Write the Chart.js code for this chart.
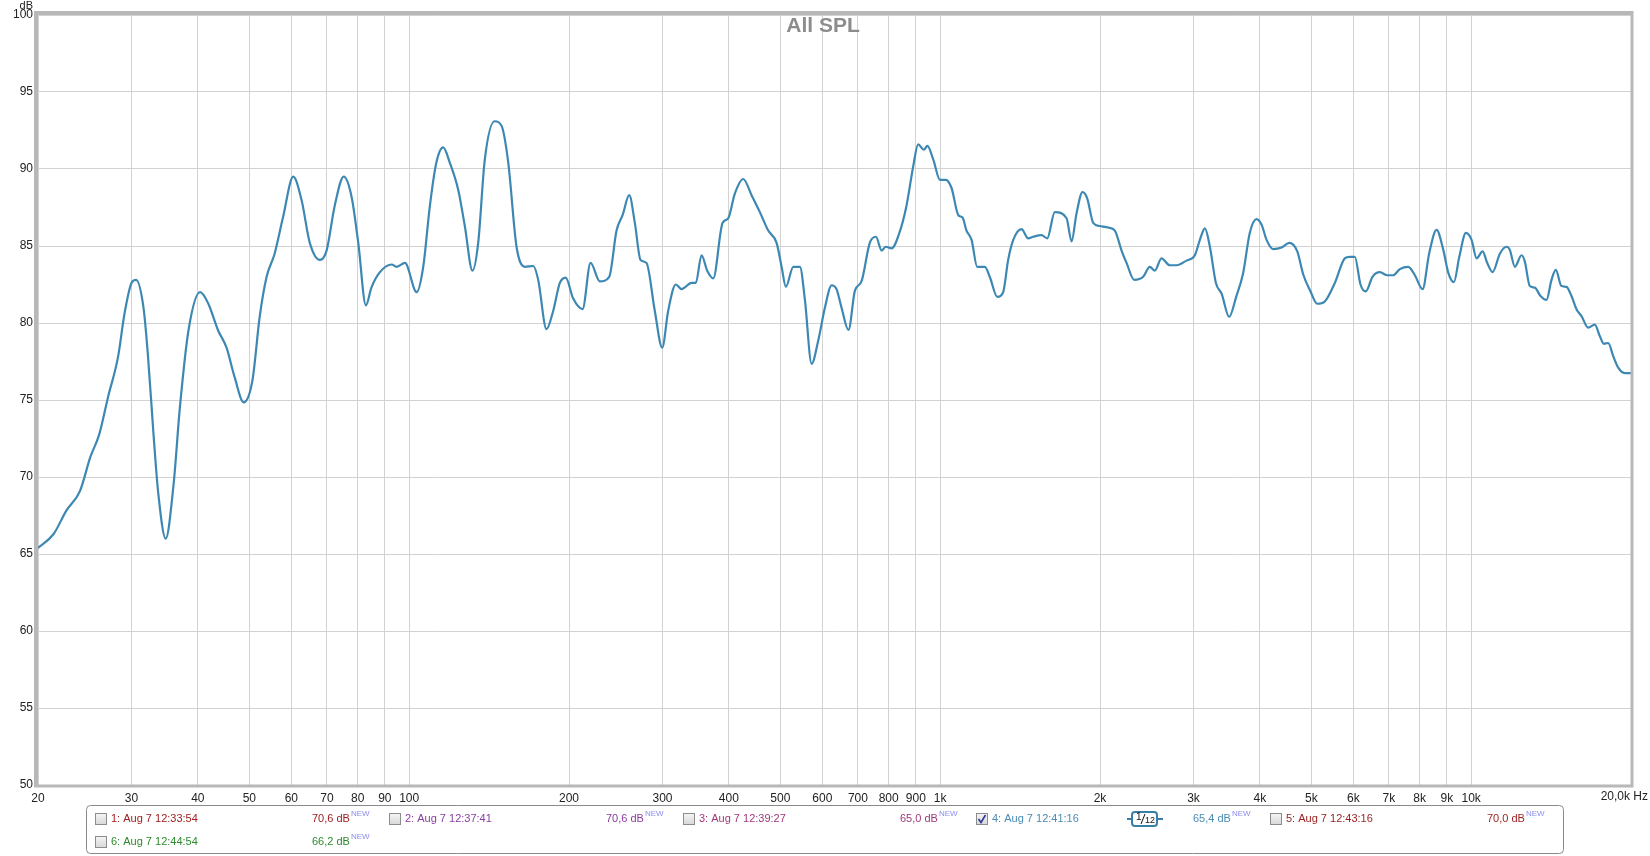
<!DOCTYPE html>
<html>
<head>
<meta charset="utf-8">
<title>All SPL</title>
<script src="https://cdn.jsdelivr.net/npm/chart.js@4/dist/chart.umd.min.js"></script>
<style>
  body { margin: 0; background: #fff; }
  canvas { display: block; }
</style>
</head>
<body>
<canvas id="graficoSpl" width="1650" height="856"></canvas>
<script>
// valores (Hz, dB)
const freqHz = [
  20, 21.4, 22.6, 24, 25.1, 26.1, 27.1, 28.3, 29.1, 30, 30.6, 31.6, 32.2, 33, 33.7, 34.8,
  36, 37, 38.4, 40.4, 41.8, 43.7, 45.3, 46.9, 48.8, 50.7, 52.3, 53.9, 55.8, 57.9, 60.5,
  62.7, 65, 67.9, 69.9, 72.4, 75.3, 77.9, 80.2, 82.9, 84.9, 88.1, 92.7, 94.7, 98.2,
  103.3, 106.3, 109.4, 112.5, 115.9, 119.3, 123.7, 127.3, 131.6, 134.9, 138.8, 144.9,
  149.3, 153.7, 159.3, 165.2, 171.3, 175, 181.4, 186.8, 192.2, 197.2, 203.6, 212.1,
  219.6, 228.6, 238.1, 245.8, 252.3, 259.7, 266.1, 272.7, 279.9, 290.1, 299.6, 307.5,
  317.8, 325.8, 340.2, 346.6, 355.3, 364.2, 373.8, 389.2, 398.9, 410.5, 425.7, 441.4,
  457.6, 474.5, 492, 502.8, 512.2, 528.9, 544.4, 556.3, 572.7, 589.7, 606.8, 624.7,
  638, 652, 672, 691, 711, 737, 757, 776, 790, 810, 837, 864, 890, 909, 932, 946, 971,
  999, 1025, 1051, 1082, 1102, 1121, 1146, 1174, 1214, 1240, 1281, 1314, 1343, 1373,
  1423, 1465, 1497, 1552, 1591, 1644, 1730, 1768, 1806, 1854, 1892, 1942, 1998, 2072,
  2133, 2196, 2244, 2320, 2412, 2482, 2537, 2611, 2706, 2786, 2910, 3018, 3084, 3152,
  3221, 3306, 3389, 3502, 3610, 3721, 3829, 3943, 4029, 4118, 4239, 4395, 4544, 4705,
  4828, 4983, 5130, 5302, 5537, 5781, 5908, 6038, 6189, 6333, 6520, 6730, 6950, 7132,
  7341, 7613, 7835, 8100, 8339, 8607, 8862, 9057, 9279, 9499, 9775, 10018, 10238, 10508,
  10723, 10973, 11325, 11658, 11826, 12087, 12443, 12619, 12896, 13178, 13509, 13865,
  14168, 14435, 14792, 15120, 15451, 15790, 16138, 16612, 17093, 17468, 17777, 18117,
  18516, 18921, 19470, 20000
];
const splDb = [
  65.4, 66.3, 67.8, 69.1, 71.3, 72.8, 75.2, 77.8, 80.6, 82.6, 82.8, 81.0, 78.0, 72.8, 68.9, 66.0,
  69.5, 74.5, 79.5, 82.0, 81.3, 79.5, 78.4, 76.5, 74.85, 76.3, 80.4, 83.0, 84.5, 86.9, 89.5,
  88.0, 85.2, 84.1, 84.7, 87.6, 89.5, 88.2, 85.2, 81.15, 82.3, 83.3, 83.8, 83.65, 83.9,
  82.0, 83.65, 87.6, 90.4, 91.4, 90.4, 88.65, 86.3, 83.4, 85.2, 90.6, 93.1,
  92.8, 90.4, 84.95, 83.65, 83.7, 82.8, 79.6, 80.8, 82.6, 82.95, 81.6, 80.9,
  83.9, 82.7, 83.0, 86.0, 87.0, 88.3, 86.5, 84.1, 83.9, 80.8, 78.4, 80.8,
  82.5, 82.2, 82.6, 82.6, 84.4, 83.4, 82.9, 86.5, 86.8, 88.4, 89.35, 88.3,
  87.2, 86.0, 85.2, 83.65, 82.35, 83.65, 83.65, 81.5, 77.35, 78.9, 81.0, 82.45,
  82.2, 81.0, 79.55, 82.1, 82.7, 85.2, 85.6, 84.7, 84.95, 84.85, 85.8, 87.6, 90.2, 91.6, 91.25, 91.5, 90.6,
  89.3, 89.3, 88.75, 87.0, 86.85, 86.0, 85.4, 83.65, 83.65, 83.0, 81.7, 82.0, 84.1, 85.4,
  86.1, 85.5, 85.6, 85.7, 85.5, 87.2, 86.8, 85.3, 87.1, 88.5, 88.1, 86.5, 86.3, 86.2,
  86.0, 84.7, 83.9, 82.8, 83.0, 83.65, 83.4, 84.2, 83.75, 83.75, 84.05, 84.4, 85.4, 86.15,
  84.95, 82.6, 81.9, 80.4, 81.7, 83.25, 85.85, 86.75, 86.4, 85.4, 84.8, 84.9, 85.2, 84.65,
  83.15, 82.05, 81.25, 81.4, 82.6, 84.2, 84.3, 84.3, 82.5, 82.05, 83.0, 83.3, 83.1, 83.1,
  83.5, 83.65, 83.1, 82.2, 84.55, 86.05, 84.75, 83.25, 82.65, 84.3, 85.85, 85.4, 84.2, 84.65,
  83.9, 83.3, 84.5, 84.95, 84.75, 83.65, 84.4, 84.0, 82.4, 82.3, 81.75, 81.5,
  82.8, 83.45, 82.4, 82.35, 81.75, 80.9, 80.45, 79.7, 79.9, 79.15, 78.65, 78.7,
  77.85, 77.1, 76.75, 76.75
];

const xTicks = [20, 30, 40, 50, 60, 70, 80, 90, 100, 200, 300, 400, 500, 600, 700, 800, 900,
  1000, 2000, 3000, 4000, 5000, 6000, 7000, 8000, 9000, 10000, 20000];
const yMin = 50;
const yMax = 100;
const yStep = 5;

const legendLabels = ['1: Aug 7 12:33:54', '2: Aug 7 12:37:41', '3: Aug 7 12:39:27',
  '4: Aug 7 12:41:16', '5: Aug 7 12:43:16', '6: Aug 7 12:44:54'];
const legendLevels = ['70,6 dB', '70,6 dB', '65,0 dB', '65,4 dB', '70,0 dB', '66,2 dB'];
const legendColors = ['#a02020', '#8a3ca0', '#a0387a', '#4a8cb4', '#9a1c1c', '#2e8a2e'];
const legendChecked = [false, false, false, true, false, false];

const fonte = '"Liberation Sans", Arial, sans-serif';

const molduraPlugin = {
  id: 'moldura',
  afterDraw(chart) {
    const ctx = chart.ctx;
    const a = chart.chartArea;
    ctx.save();

    // moldura cinza do gráfico
    ctx.strokeStyle = '#b8b8b8';
    ctx.lineWidth = 4;
    ctx.beginPath();
    ctx.moveTo(a.left - 2, a.bottom);
    ctx.lineTo(a.left - 2, a.top - 2);
    ctx.lineTo(a.right, a.top - 2);
    ctx.stroke();
    ctx.lineWidth = 3;
    ctx.beginPath();
    ctx.moveTo(a.right + 1, a.top - 4);
    ctx.lineTo(a.right + 1, a.bottom + 1);
    ctx.lineTo(a.left - 4, a.bottom + 1);
    ctx.stroke();

    // título
    ctx.fillStyle = '#8c8c8c';
    ctx.font = 'bold 21px ' + fonte;
    ctx.textAlign = 'center';
    ctx.textBaseline = 'middle';
    ctx.fillText('All SPL', 823, 26);

    // unidades
    ctx.fillStyle = '#222';
    ctx.font = '11px ' + fonte;
    ctx.textAlign = 'right';
    ctx.textBaseline = 'top';
    ctx.fillText('dB', 33, 0);
    ctx.font = '12px ' + fonte;
    ctx.fillText('20,0k Hz', 1648, 791);

    // legenda
    ctx.strokeStyle = '#8a8a8a';
    ctx.lineWidth = 1;
    ctx.beginPath();
    ctx.roundRect(86.5, 805.5, 1477, 48, 4);
    ctx.stroke();

    const colX = [95, 389, 683, 976, 1270];
    legendLabels.forEach((txt, i) => {
      const cx = colX[i % 5];
      const cy = i < 5 ? 819 : 842;
      const cor = legendColors[i];

      const g = ctx.createLinearGradient(0, cy - 6, 0, cy + 6);
      g.addColorStop(0, '#f6f6f6');
      g.addColorStop(1, '#d6d6d6');
      ctx.fillStyle = g;
      ctx.fillRect(cx, cy - 6, 12, 12);
      ctx.strokeStyle = '#8c8c8c';
      ctx.strokeRect(cx + 0.5, cy - 5.5, 11, 11);
      if (legendChecked[i]) {
        ctx.strokeStyle = '#2a3a9a';
        ctx.lineWidth = 1.6;
        ctx.beginPath();
        ctx.moveTo(cx + 2.5, cy);
        ctx.lineTo(cx + 5, cy + 3.5);
        ctx.lineTo(cx + 9.5, cy - 4);
        ctx.stroke();
        ctx.lineWidth = 1;
      }

      ctx.fillStyle = cor;
      ctx.font = '11px ' + fonte;
      ctx.textAlign = 'left';
      ctx.textBaseline = 'middle';
      ctx.fillText(txt, cx + 16, cy);
      const vx = cx + 217;
      ctx.fillText(legendLevels[i], vx, cy);
      const w = ctx.measureText(legendLevels[i]).width;
      ctx.fillStyle = '#8c8cf0';
      ctx.font = '8px ' + fonte;
      ctx.fillText('NEW', vx + w + 1, cy - 5);
    });

    // ícone de suavização 1/12
    ctx.strokeStyle = '#3a7fa8';
    ctx.lineWidth = 2;
    ctx.beginPath();
    ctx.moveTo(1127, 819); ctx.lineTo(1132, 819);
    ctx.moveTo(1157, 819); ctx.lineTo(1163, 819);
    ctx.stroke();
    ctx.fillStyle = '#fff';
    ctx.beginPath();
    ctx.roundRect(1132, 812, 25, 14, 3);
    ctx.fill();
    ctx.stroke();
    ctx.fillStyle = '#111';
    ctx.font = '10px ' + fonte;
    ctx.textAlign = 'left';
    ctx.fillText('1', 1136, 817);
    ctx.lineWidth = 1;
    ctx.strokeStyle = '#111';
    ctx.beginPath();
    ctx.moveTo(1141, 824); ctx.lineTo(1145, 814);
    ctx.stroke();
    ctx.font = '9px ' + fonte;
    ctx.fillText('12', 1145, 821);

    ctx.restore();
  }
};

const ctx = document.getElementById('graficoSpl').getContext('2d');

new Chart(ctx, {
  type: 'line',
  data: {
    datasets: [{
      label: '4: Aug 7 12:41:16',
      data: freqHz.map((f, i) => ({ x: f, y: splDb[i] })),
      borderColor: '#3d88b3',
      borderWidth: 2.2,
      pointRadius: 0,
      cubicInterpolationMode: 'monotone',
      fill: false
    }]
  },
  options: {
    responsive: false,
    animation: false,
    layout: { padding: { left: 0, right: 19, top: 15, bottom: 0 } },
    plugins: {
      legend: { display: false },
      tooltip: { enabled: false },
      title: { display: false }
    },
    scales: {
      x: {
        type: 'logarithmic',
        min: 20,
        max: 20000,
        afterBuildTicks: axis => { axis.ticks = xTicks.map(v => ({ value: v })); },
        afterFit: axis => { axis.height = 71; },
        border: { display: false },
        grid: { color: '#d2d2d2', lineWidth: 1, drawTicks: false },
        ticks: {
          autoSkip: false,
          maxRotation: 0,
          padding: 6,
          color: '#222',
          font: { family: fonte, size: 12 },
          callback: v => v >= 20000 ? '' : (v >= 1000 ? (v / 1000) + 'k' : String(v))
        }
      },
      y: {
        min: yMin,
        max: yMax,
        afterFit: axis => { axis.width = 38; },
        border: { display: false },
        grid: { color: '#d2d2d2', lineWidth: 1, drawTicks: false },
        ticks: {
          stepSize: yStep,
          padding: 5,
          color: '#222',
          font: { family: fonte, size: 12 }
        }
      }
    }
  },
  plugins: [molduraPlugin]
});
</script>
</body>
</html>
